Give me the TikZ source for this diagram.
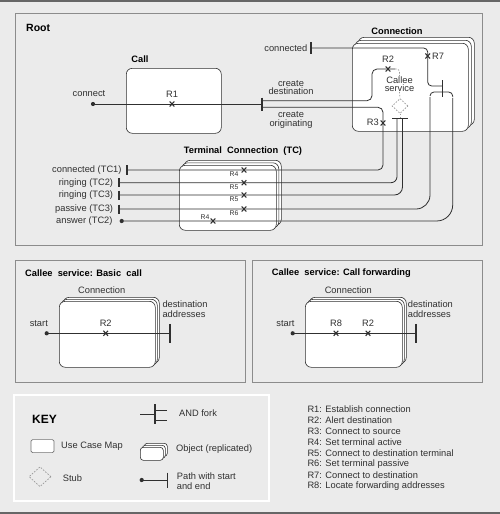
\documentclass[tikz,border=0pt]{standalone}
\usepackage{fontspec}
\setmainfont{Liberation Sans}
\usetikzlibrary{positioning,calc,shapes.geometric}

\definecolor{paper}{HTML}{EBEBEB}
\definecolor{ink}{HTML}{303030}
\definecolor{framegray}{HTML}{8C8C8C}

\tikzset{
  panel/.style={draw=framegray, line width=0.9pt},
  keypanel/.style={draw=white, line width=1.3pt},
  ucm/.style={draw=ink, fill=white, line width=0.6pt, rounded corners=6pt, inner sep=0pt},
  replicated/.style={ucm,
    preaction={draw=ink, fill=white, line width=0.6pt, transform canvas={xshift=2*#1, yshift=2*#1}},
    preaction={draw=ink, fill=white, line width=0.6pt, transform canvas={xshift=#1, yshift=#1}}},
  replicated/.default=3pt,
  route/.style={draw=ink, line width=0.8pt},
  barline/.style={draw=ink, line width=1.5pt},
  lbl/.style={font=\fontsize{9.3}{8.5}\selectfont, inner sep=0pt, text=ink, align=center},
  lbl2/.style={font=\fontsize{9.3}{10.5}\selectfont, inner sep=0pt, text=ink, align=left},
  ttl/.style={font=\fontsize{9.3}{10}\selectfont\bfseries, inner sep=0pt, text=black},
  rlbl/.style={font=\fontsize{6.8}{7}\selectfont, inner sep=0pt, text=ink},
  stubline/.style={draw=black!40, dash pattern=on 1.6pt off 1.4pt, line width=0.7pt},
}

% responsibility point
\newcommand{\resp}[1]{\draw[ink, line width=1.1pt] ($(#1)+(-2.3,-2.5)$) -- ($(#1)+(2.3,2.5)$) ($(#1)+(-2.3,2.5)$) -- ($(#1)+(2.3,-2.5)$);}
% start point and end bar
\newcommand{\startdot}[1]{\fill[ink] (#1) circle (2.1pt);}
\newcommand{\stopbar}[2]{\draw[barline] ($(#1)+(0,-#2)$) -- ($(#1)+(0,#2)$);}

\begin{document}
\begin{tikzpicture}[x=1pt, y=-1pt]
% page
\fill[paper] (0,0) rectangle (500,514);
\useasboundingbox (0,0) rectangle (500,514);
\draw[black!60, line width=1.2pt] (0,1) -- (500,1) (0,513) -- (500,513);
% panels
\draw[panel] (15,13) rectangle (482,245);
\draw[panel] (15,260) rectangle (245,382);
\draw[panel] (252,260) rectangle (482,382);
\draw[keypanel] (14,395) rectangle (269,501);
% ---- Root ----
\node[ttl, font=\fontsize{10.5}{11}\selectfont\bfseries, anchor=west] (root) at (26,28) {Root};
\node[ucm, anchor=north west, minimum width=95pt, minimum height=65pt] (call) at (126,68) {};
\node[ttl] (calltitle) at (140,59) {Call};
\node[replicated, anchor=north west, minimum width=116pt, minimum height=88pt] (conn) at (352,43) {};
\node[ttl] (conntitle) at (397,31) {Connection};
\node[replicated=2.5pt, anchor=north west, minimum width=97pt, minimum height=65pt] (tc) at (179,165) {};
\node[ttl] (tctitle) at (243,151) {Terminal\ \ Connection\ \ (TC)};
% stub inside Connection
\node[stubline, diamond, minimum width=16pt, minimum height=15pt, inner sep=0pt] (stub) at (400,106) {};
\node[lbl] (callee) at (399.5,84) {Callee\\service};
% path ends
\coordinate (connect) at (93,104);
\coordinate (create) at (262,104);
\coordinate (connected) at (311,48);
\coordinate (tcA) at (127,170);
\coordinate (tcB) at (119,182.7);
\coordinate (tcC) at (119,195);
\coordinate (tcD) at (119,209);
\coordinate (answer) at (121.7,221);
\coordinate (forkA) at (400,118.7);
\coordinate (forkB) at (442.7,88.5);
% routes
\draw[route] (connect) -- (create);
\draw[route, rounded corners=5pt] ($(create)+(0,-3.3)$) -| (372,69) -- (395,69);
\draw[stubline, rounded corners=3pt] (395,69) -| (callee.north);
\draw[stubline] (callee.south) -- (stub.north);
\draw[stubline] (stub.south) -- (forkA);
\draw[route, rounded corners=5pt] ($(create)+(0,3.3)$) -| (383,170) -- (tcA);
\draw[route, rounded corners=6pt] (tcB) -| ($(forkA)+(-3,0)$);
\draw[route, rounded corners=8pt] (tcC) -| ($(forkA)+(2.5,0)$);
\draw[route, rounded corners=4pt] (connected) -| (427.7,86) -- ($(forkB)+(0,-2.5)$);
\draw[route, rounded corners=14pt] (tcD) -| (430,97);
\draw[route, rounded corners=4pt] (430,96) |- ($(forkB)+(0,3.5)$);
\draw[route, rounded corners=16pt] (answer) -| (452.7,98);
\draw[route, rounded corners=4pt] (452.7,97) |- ($(forkB)+(0,3.5)$);
% bars, forks, dots
\startdot{connect}
\startdot{answer}
\stopbar{create}{6.5}
\stopbar{connected}{5.8}
\draw[barline] ($(forkA)+(-8,0)$) -- ($(forkA)+(8,0)$);
\stopbar{forkB}{8.5}
\stopbar{tcA}{5}
\stopbar{tcB}{4.5}
\stopbar{tcC}{4.5}
\stopbar{tcD}{4.5}
% responsibilities
\resp{172,104}
\node[lbl] at (172,94) {R1};
\resp{388,69}
\node[lbl] at (388,59) {R2};
\resp{427.7,56}
\node[lbl, anchor=west] at (432,56) {R7};
\resp{383,123}
\node[lbl, anchor=east] at (379,122.5) {R3};
\resp{244,170}
\node[rlbl, anchor=east] at (238.5,174) {R4};
\resp{244,182.7}
\node[rlbl, anchor=east] at (238.5,186.7) {R5};
\resp{244,195}
\node[rlbl, anchor=east] at (238.5,199.3) {R5};
\resp{244,209}
\node[rlbl, anchor=east] at (238.5,212.7) {R6};
\resp{213,221}
\node[rlbl, anchor=east] at (209.5,216.7) {R4};
% labels
\node[lbl] at (89,94) {connect};
\node[lbl, anchor=east] at (307.5,47.7) {connected};
\node[lbl] at (291,87.5) {create\\destination};
\node[lbl] at (291,120) {create\\originating};
\node[lbl, anchor=east] at (121.7,170) {connected (TC1)};
\node[lbl, anchor=east] at (113.3,182.7) {ringing (TC2)};
\node[lbl, anchor=east] at (113.3,195) {ringing (TC3)};
\node[lbl, anchor=east] at (113.3,209) {passive (TC3)};
\node[lbl, anchor=east] at (112.7,221) {answer (TC2)};
% ---- Callee service: Basic call ----
\node[ttl, anchor=west] at (25,272.7) {Callee\ \ service: Basic\ \ call};
\node[replicated=2pt, anchor=north west, minimum width=96pt, minimum height=66pt] (basic) at (59,301) {};
\node[lbl] at (101.7,290) {Connection};
\coordinate (startA) at (46.7,333.3);
\coordinate (destA) at (170,333.3);
\draw[route] (startA) -- (destA);
\startdot{startA}
\stopbar{destA}{9.5}
\resp{105.7,333.3}
\node[lbl] at (105.7,323.7) {R2};
\node[lbl] at (38.8,324) {start};
\node[lbl2, anchor=west] at (162.3,309) {destination\\addresses};
% ---- Callee service: Call forwarding ----
\node[ttl, anchor=west] at (271.7,272.7) {Callee\ \ service: Call forwarding};
\node[replicated=2pt, anchor=north west, minimum width=97pt, minimum height=66pt] (fwd) at (305,301) {};
\node[lbl] at (348.3,290) {Connection};
\coordinate (startB) at (292.7,333.3);
\coordinate (destB) at (416,333.3);
\draw[route] (startB) -- (destB);
\startdot{startB}
\stopbar{destB}{9.5}
\resp{336,333.3}
\node[lbl] at (336,323.7) {R8};
\resp{368,333.3}
\node[lbl] at (368,323.7) {R2};
\node[lbl] at (285.5,324) {start};
\node[lbl2, anchor=west] at (407.7,309) {destination\\addresses};
% ---- KEY ----
\node[ttl, font=\fontsize{12}{12}\selectfont\bfseries, anchor=west] (key) at (32,419) {KEY};
\node[ucm, draw=black!55, rounded corners=1.5pt, anchor=north west, minimum width=23pt, minimum height=13pt] (keyucm) at (30.7,439.3) {};
\node[lbl, anchor=west] at (61,446) {Use Case Map};
\node[stubline, diamond, minimum width=22pt, minimum height=20pt, inner sep=0pt] (keystub) at (40,476.7) {};
\node[lbl, anchor=west] at (62.7,478.3) {Stub};
\coordinate (keyfork) at (155,414);
\draw[route] (140,414) -- (keyfork);
\draw[route] (155,410) -- (166.7,410) (155,420.7) -- (166.7,420.7);
\stopbar{keyfork}{10}
\node[lbl, anchor=west] at (179,413.3) {AND fork};
\node[replicated=2pt, rounded corners=3pt, anchor=north west, minimum width=23pt, minimum height=13pt] (keyobj) at (140,447) {};
\node[lbl, anchor=west] at (176,449.3) {Object (replicated)};
\coordinate (keystart) at (141.7,480);
\coordinate (keyend) at (167.7,480);
\draw[route] (keystart) -- (keyend);
\startdot{keystart}
\stopbar{keyend}{7.5}
\node[lbl2, anchor=west] at (176.7,481.2) {Path with start\\and end};
% responsibilities list
\foreach \t [count=\i from 0] in {R1: Establish connection, R2: Alert destination, R3: Connect to source, R4: Set terminal active, R5: Connect to destination terminal, R6: Set terminal passive, R7: Connect to destination, R8: Locate forwarding addresses}
  \node[lbl, anchor=west] at (307.3,{409.3+10.95*\i}) {\t};
\end{tikzpicture}
\end{document}
